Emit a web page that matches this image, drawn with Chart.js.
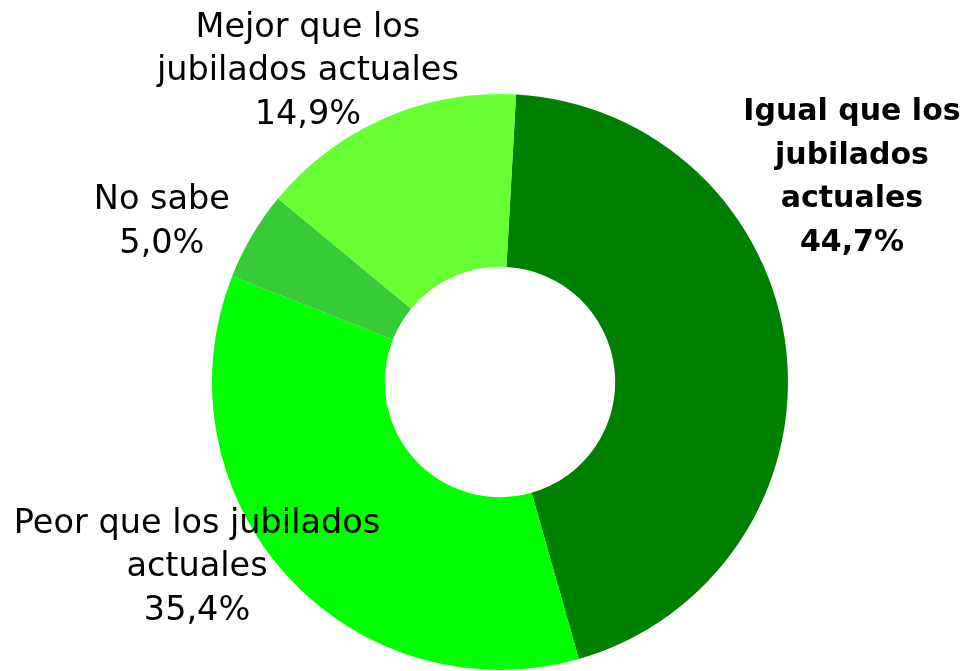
<!DOCTYPE html>
<html>
<head>
<meta charset="utf-8">
<script src="https://cdn.jsdelivr.net/npm/chart.js@4/dist/chart.umd.min.js"></script>
<style>
  html, body { margin: 0; padding: 0; background: #fff; }
  #wrap { width: 966px; height: 671px; position: relative; }
</style>
</head>
<body>
<div id="wrap"><canvas id="donaChart"></canvas></div>
<script>
// valores
const categorias = [
    ['Igual que los', 'jubilados', 'actuales'],
    ['Peor que los jubilados', 'actuales'],
    ['No sabe'],
    ['Mejor que los', 'jubilados actuales']
];
const valores = [44.7, 35.4, 5.0, 14.9];
const colores = ['#008000', '#00ff00', '#37cc37', '#66ff33'];

// posicion de cada etiqueta respecto al centro, en radios exteriores
const posEtiquetas = [
    { dx: 1.222, dy: -0.71, bold: true },
    { dx: -1.052, dy: 0.644, bold: false },
    { dx: -1.174, dy: -0.554, bold: false },
    { dx: -0.667, dy: -1.078, bold: false }
];

function formatoPct(v) {
    return v.toFixed(1).replace('.', ',') + '%';
}

const etiquetasPlugin = {
    id: 'etiquetas',
    afterDraw(chart) {
        const ctx = chart.ctx;
        const arc = chart.getDatasetMeta(0).data[0];
        const cx = arc.x, cy = arc.y, r = arc.outerRadius;
        const lineH = 43.5;
        ctx.save();
        ctx.fillStyle = '#000';
        ctx.textAlign = 'center';
        ctx.textBaseline = 'middle';
        categorias.forEach((lineas, i) => {
            const p = posEtiquetas[i];
            const todas = lineas.concat([formatoPct(valores[i])]);
            ctx.font = (p.bold ? 'bold 30px' : '33.5px') + ' "DejaVu Sans", sans-serif';
            const x = cx + p.dx * r;
            const y0 = cy + p.dy * r - (todas.length - 1) * lineH / 2;
            todas.forEach((t, j) => ctx.fillText(t, x, y0 + j * lineH));
        });
        ctx.restore();
    }
};

const ctx = document.getElementById('donaChart').getContext('2d');
new Chart(ctx, {
    type: 'doughnut',
    data: {
        labels: categorias.map(c => c.join(' ')),
        datasets: [{
            data: valores,
            backgroundColor: colores,
            borderWidth: 0
        }]
    },
    options: {
        responsive: true,
        maintainAspectRatio: false,
        animation: false,
        rotation: 3.2,
        cutout: '40%',
        layout: {
            padding: { left: 212, right: 178, top: 94, bottom: 1 }
        },
        plugins: {
            legend: { display: false },
            tooltip: { enabled: false }
        }
    },
    plugins: [etiquetasPlugin]
});
</script>
</body>
</html>
